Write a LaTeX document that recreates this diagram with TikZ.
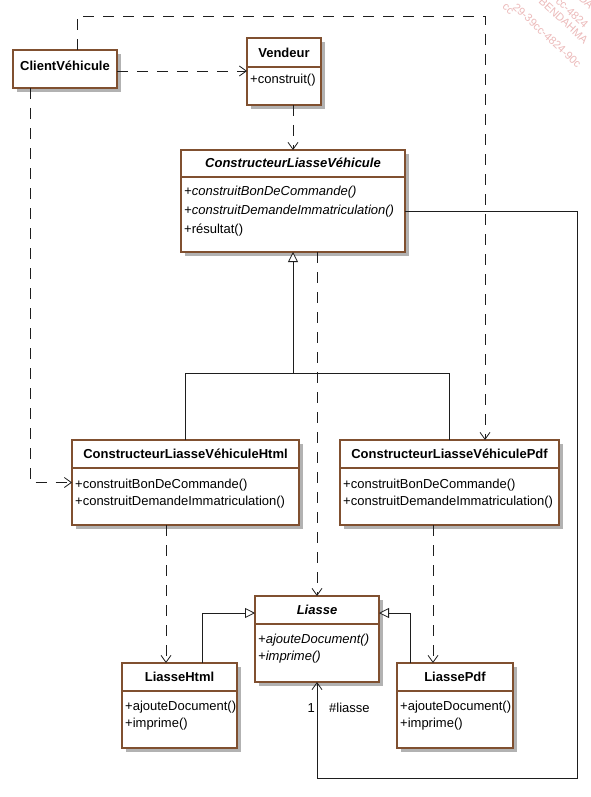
\documentclass[tikz,border=0pt]{standalone}
\usepackage{fontspec}
\setmainfont{Liberation Sans}
\usetikzlibrary{arrows.meta,shadows}
\definecolor{boxc}{RGB}{128,80,48}
\definecolor{shad}{RGB}{178,178,178}
\definecolor{wm}{RGB}{236,186,186}
\definecolor{lnc}{RGB}{30,30,30}
\begin{document}
\begin{tikzpicture}[x=1pt,y=-1pt,
  font=\fontsize{13}{15}\selectfont,
  cls/.style={draw=boxc, line width=1.2pt, fill=white, inner sep=0pt, outer sep=0pt, anchor=north west,
    drop shadow={opacity=1, fill=shad, shadow xshift=4pt, shadow yshift=-4pt}},
  divl/.style={draw=boxc, line width=1.2pt},
  ttl/.style={font=\fontsize{13}{15}\selectfont\bfseries, inner sep=0pt},
  ttli/.style={font=\fontsize{13}{15}\selectfont\bfseries\itshape, inner sep=0pt},
  meth/.style={anchor=west, inner sep=0pt},
  methi/.style={anchor=west, inner sep=0pt, font=\fontsize{13}{15}\selectfont\itshape},
  lbl/.style={inner sep=0pt},
  dep/.style={draw=lnc, line width=0.8pt, dash pattern=on 11pt off 9pt, -{Straight Barb[length=7pt,width=10pt]}},
  inh/.style={draw=lnc, line width=0.8pt, -{Triangle[open, length=10pt, width=10pt, fill=white]}},
  plain/.style={draw=lnc, line width=0.8pt},
  assoc/.style={draw=lnc, line width=0.8pt, -{Straight Barb[length=7pt,width=10pt]}},
  wmk/.style={text=wm, font=\fontsize{11}{13}\selectfont, inner sep=0pt, rotate=-43, anchor=base west}
]
\useasboundingbox (0,0) rectangle (590,797);
\fill[white] (0,0) rectangle (590,797);

% watermark
\begin{scope}
\clip (0,0) rectangle (590,797);
\node[wmk, anchor=base east] (w1) at (510,15) {cc};
\node[wmk] (w2) at (512,8) {29-39cc-4824-90c};
\node[wmk] (w3) at (538,2) {BENDAHMA};
\node[wmk] (w4) at (555,2) {cc-4824};
\node[wmk] (w5) at (578,-1) {DA};
\end{scope}

% classes
\node[cls, minimum width=104pt, minimum height=38pt] (client) at (13,50) {};
\node[ttl] at ([yshift=3pt]client.center) {ClientVéhicule};

\node[cls, minimum width=74pt, minimum height=67pt] (vendeur) at (247,38) {};
\draw[divl] ([yshift=-29pt]vendeur.north west) -- ([yshift=-29pt]vendeur.north east);
\node[ttl] at ([yshift=-15pt]vendeur.north) {Vendeur};
\node[meth] at ([xshift=3pt,yshift=-42pt]vendeur.north west) {+construit()};

\node[cls, minimum width=224pt, minimum height=102pt] (constr) at (181,150) {};
\draw[divl] ([yshift=-27pt]constr.north west) -- ([yshift=-27pt]constr.north east);
\node[ttli] at ([yshift=-13pt]constr.north) {ConstructeurLiasseVéhicule};
\node[methi] at ([xshift=3pt,yshift=-42pt]constr.north west) {+construitBonDeCommande()};
\node[methi] at ([xshift=3pt,yshift=-61pt]constr.north west) {+construitDemandeImmatriculation()};
\node[meth] at ([xshift=3pt,yshift=-80pt]constr.north west) {+résultat()};

\node[cls, minimum width=227pt, minimum height=85pt] (html) at (72,440) {};
\draw[divl] ([yshift=-28pt]html.north west) -- ([yshift=-28pt]html.north east);
\node[ttl] at ([yshift=-14pt]html.north) {ConstructeurLiasseVéhiculeHtml};
\node[meth] at ([xshift=3pt,yshift=-45pt]html.north west) {+construitBonDeCommande()};
\node[meth] at ([xshift=3pt,yshift=-62pt]html.north west) {+construitDemandeImmatriculation()};

\node[cls, minimum width=219pt, minimum height=85pt] (pdf) at (340,440) {};
\draw[divl] ([yshift=-28pt]pdf.north west) -- ([yshift=-28pt]pdf.north east);
\node[ttl] at ([yshift=-14pt]pdf.north) {ConstructeurLiasseVéhiculePdf};
\node[meth] at ([xshift=3pt,yshift=-45pt]pdf.north west) {+construitBonDeCommande()};
\node[meth] at ([xshift=3pt,yshift=-62pt]pdf.north west) {+construitDemandeImmatriculation()};

\node[cls, minimum width=124pt, minimum height=86pt] (liasse) at (255,596) {};
\draw[divl] ([yshift=-28pt]liasse.north west) -- ([yshift=-28pt]liasse.north east);
\node[ttli] at ([yshift=-14pt]liasse.north) {Liasse};
\node[methi] at ([xshift=3pt,yshift=-44pt]liasse.north west) {+ajouteDocument()};
\node[methi] at ([xshift=3pt,yshift=-61pt]liasse.north west) {+imprime()};

\node[cls, minimum width=115pt, minimum height=85pt] (lhtml) at (122,663) {};
\draw[divl] ([yshift=-28pt]lhtml.north west) -- ([yshift=-28pt]lhtml.north east);
\node[ttl] at ([yshift=-14pt]lhtml.north) {LiasseHtml};
\node[meth] at ([xshift=3pt,yshift=-44pt]lhtml.north west) {+ajouteDocument()};
\node[meth] at ([xshift=3pt,yshift=-61pt]lhtml.north west) {+imprime()};

\node[cls, minimum width=116pt, minimum height=85pt] (lpdf) at (397,663) {};
\draw[divl] ([yshift=-28pt]lpdf.north west) -- ([yshift=-28pt]lpdf.north east);
\node[ttl] at ([yshift=-14pt]lpdf.north) {LiassePdf};
\node[meth] at ([xshift=3pt,yshift=-44pt]lpdf.north west) {+ajouteDocument()};
\node[meth] at ([xshift=3pt,yshift=-61pt]lpdf.north west) {+imprime()};

% connectors
\coordinate (gj) at (293,373);
\coordinate (rc) at (577,778);

\draw[dep] ([yshift=-2pt]client.east) -- ([yshift=-2pt]client.east -| vendeur.west);
\draw[dep] ([xshift=12pt]client.north) -- ++(0,-34) -| ([xshift=35.5pt]pdf.north);
\draw[dep] ([xshift=-35pt]client.south) |- (html.west);
\draw[dep] (constr.north |- vendeur.south) -- (constr.north);
\draw[dep] (liasse.north |- constr.south) -- (liasse.north);
\draw[dep] ([xshift=-13.5pt]lhtml.north |- html.south) -- ([xshift=-13.5pt]lhtml.north);
\draw[dep] ([xshift=-22pt]lpdf.north |- pdf.south) -- ([xshift=-22pt]lpdf.north);

\draw[plain] (html.north) |- (gj);
\draw[plain] (pdf.north) |- (gj);
\draw[inh] (gj) -- (constr.south);

\draw[inh] ([xshift=22.5pt]lhtml.north) |- ([yshift=26pt]liasse.west);
\draw[inh] ([xshift=-45pt]lpdf.north) |- ([yshift=26pt]liasse.east);

\draw[assoc] ([yshift=-10pt]constr.east) -| (rc) -| (liasse.south);
\node[lbl, anchor=east] (m1) at ([xshift=-2pt,yshift=-26pt]liasse.south) {1};
\node[lbl, anchor=west] (m2) at ([xshift=12pt,yshift=-26pt]liasse.south) {\#liasse};
\end{tikzpicture}
\end{document}
